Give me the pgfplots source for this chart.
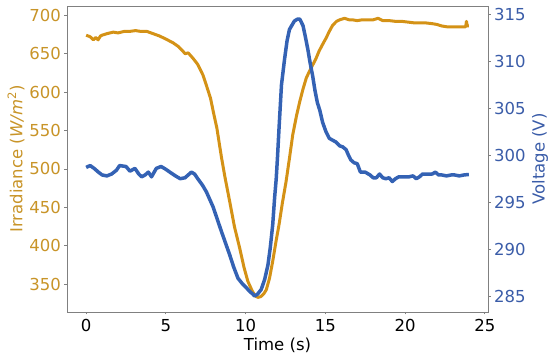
\documentclass[border=0pt]{standalone}
\usepackage{fontspec}
\setmainfont{DejaVu Sans}
\usepackage{pgfplots}
\pgfplotsset{compat=1.18}
\definecolor{irr}{RGB}{212,146,22}
\definecolor{irrtxt}{RGB}{200,148,40}
\definecolor{volt}{RGB}{52,98,180}
\definecolor{volttxt}{RGB}{58,92,168}
\definecolor{spine}{RGB}{128,128,128}
\begin{document}
\begin{tikzpicture}
\useasboundingbox (-67pt,-46pt) rectangle (483pt,312pt);
\pgfplotsset{
  every axis/.style={
    scale only axis, width=421pt, height=306pt,
    xmin=-1.2, xmax=25.2,
    /pgf/number format/assume math mode=true,
    tick align=outside, major tick length=2.5pt,
    tick style={spine, line width=0.8pt},
    ticklabel style={font=\fontsize{16.5}{20}\selectfont, inner sep=0pt},
    axis line style={spine, line width=0.9pt},
    clip=false,
  }
}
\begin{axis}[
  ymin=314, ymax=712,
  xtick pos=bottom, ytick pos=left,
  xtick={0,5,10,15,20,25},
  ytick={350,400,450,500,550,600,650,700},
  yticklabel style={color=irrtxt},
  xticklabel style={color=black},
  xticklabel shift=4.5pt,
  yticklabel shift=3.5pt,
  xlabel={Time (s)},
  ylabel={Irradiance (\textit{W/m}\textsuperscript{2})},
  every axis x label/.style={at={(axis description cs:0.5,0)}, anchor=center, yshift=-33pt, font=\fontsize{16.5}{20}\selectfont, inner sep=0pt},
  every axis y label/.style={at={(axis description cs:0,0.5)}, rotate=90, anchor=center, yshift=51pt, font=\fontsize{16.5}{20}\selectfont, color=irrtxt, inner sep=0pt},
]
\addplot[irr, line width=3pt, line join=round] coordinates {
(0,674)(0.25,672)(0.45,668)(0.6,671)(0.75,668)(0.9,673)(1.0,674)(1.3,676)(1.7,678)(2.0,677)
(2.4,679)(2.75,679)(3.1,680)(3.4,679)(3.8,679)(4.2,676)(4.6,673)(5.0,669)(5.46,664)(5.8,659)
(6.08,653)(6.2,650)(6.4,651)(6.7,644)(7.0,636)(7.33,622)(7.6,605)(7.8,592)(8.0,572)(8.2,553)
(8.48,516)(8.7,490)(9.0,458)(9.3,425)(9.63,397)(9.9,372)(10.14,354)(10.4,342)(10.6,335)(10.77,333)
(10.95,334)(11.15,338)(11.3,343)(11.5,358)(11.7,380)(11.9,405)(12.1,428)(12.3,455)(12.54,484)(12.75,514)
(12.96,545)(13.2,570)(13.4,588)(13.6,604)(13.8,618)(14.0,627)(14.2,635)(14.4,643)(14.6,653)(14.8,661)
(15.04,670)(15.25,679)(15.46,687)(15.7,692)(15.9,694)(16.2,696)(16.5,694)(16.7,694)(17.0,693)(17.3,694)
(17.75,694)(18.0,694)(18.3,696)(18.6,693)(19.0,693)(19.4,692)(19.8,692)(20.2,691)(20.6,690)(21.0,690)
(21.3,690)(21.7,689)(22.0,688)(22.3,686)(22.6,685)(23.0,685)(23.4,685)(23.8,685)(23.85,692)(23.9,686)(24.0,686)
};
\end{axis}
\begin{axis}[
  ymin=283.3, ymax=315.9,
  axis y line*=right, axis x line=none,
  ytick={285,290,295,300,305,310,315},
  yticklabel style={color=volttxt},
  yticklabel shift=3.5pt,
  ylabel={Voltage (V)},
  every axis y label/.style={at={(axis description cs:1,0.5)}, rotate=90, anchor=center, yshift=-52pt, font=\fontsize{16.5}{20}\selectfont, color=volttxt, inner sep=0pt},
]
\addplot[volt, line width=3.5pt, line join=round] coordinates {
(0,298.7)(0.25,298.9)(0.5,298.6)(0.77,298.2)(1.0,297.9)(1.3,297.8)(1.6,298.0)(1.9,298.4)(2.1,298.9)(2.5,298.8)
(2.75,298.3)(3.06,298.6)(3.3,298.0)(3.48,297.7)(3.7,297.9)(3.9,298.2)(4.1,297.7)(4.4,298.6)(4.7,298.8)(5.0,298.5)
(5.25,298.2)(5.6,297.8)(5.9,297.5)(6.2,297.6)(6.6,298.2)(6.8,298.0)(7.0,297.5)(7.3,296.8)(7.54,296.1)(7.96,294.5)
(8.2,293.3)(8.48,291.9)(8.75,290.6)(9.0,289.4)(9.25,288.1)(9.52,286.9)(9.8,286.3)(10.04,285.9)(10.25,285.5)(10.46,285.2)
(10.56,285.0)(10.75,285.2)(10.98,285.7)(11.2,286.8)(11.4,288.3)(11.55,290.2)(11.7,292.6)(11.82,295.5)(11.92,297.5)(12.0,299.8)
(12.1,303.0)(12.25,307.5)(12.44,310.2)(12.6,312.2)(12.75,313.4)(13.06,314.3)(13.25,314.5)(13.4,314.5)(13.6,313.8)(13.75,312.6)
(13.9,311.3)(14.05,309.8)(14.2,308.5)(14.35,306.9)(14.5,305.6)(14.65,304.8)(14.83,303.5)(15.04,302.5)(15.25,301.8)(15.46,301.6)
(15.67,301.4)(15.9,301.0)(16.08,300.9)(16.3,300.6)(16.45,300.0)(16.6,299.5)(16.8,299.2)(17.0,299.1)(17.2,298.2)(17.5,298.2)
(17.8,297.9)(18.0,297.6)(18.2,297.6)(18.4,298.0)(18.6,297.6)(18.8,297.5)(19.0,297.6)(19.2,297.2)(19.4,297.5)(19.6,297.7)
(19.9,297.7)(20.25,297.7)(20.5,297.8)(20.7,297.5)(20.9,297.7)(21.1,298.0)(21.4,298.0)(21.7,298.0)(21.9,298.2)(22.1,297.9)
(22.3,297.9)(22.6,297.8)(22.9,297.9)(23.1,297.9)(23.4,297.8)(23.7,297.9)(24.0,297.95)
};
\end{axis}
\end{tikzpicture}
\end{document}
